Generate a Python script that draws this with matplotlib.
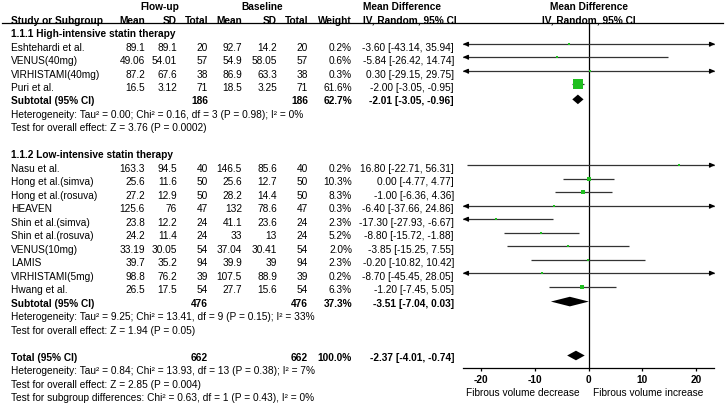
import matplotlib
matplotlib.use("Agg")
import matplotlib.pyplot as plt
import numpy as np

plt.rcParams['font.family'] = ['Liberation Sans', 'DejaVu Sans']

# ---------------- data ----------------
high_names = ["Eshtehardi et al.", "VENUS(40mg)", "VIRHISTAMI(40mg)", "Puri et al."]
high_fu_mean = [89.1, 49.06, 87.2, 16.5]
high_fu_sd = [89.1, 54.01, 67.6, 3.12]
high_fu_n = [20, 57, 38, 71]
high_bl_mean = [92.7, 54.9, 86.9, 18.5]
high_bl_sd = [14.2, 58.05, 63.3, 3.25]
high_bl_n = [20, 57, 38, 71]
high_weight = [0.2, 0.6, 0.3, 61.6]
high_md = [-3.60, -5.84, 0.30, -2.00]
high_lo = [-43.14, -26.42, -29.15, -3.05]
high_hi = [35.94, 14.74, 29.75, -0.95]
high_sub = dict(n1=186, n2=186, w=62.7, md=-2.01, lo=-3.05, hi=-0.96)
high_het = "Heterogeneity: Tau\u00b2 = 0.00; Chi\u00b2 = 0.16, df = 3 (P = 0.98); I\u00b2 = 0%"
high_test = "Test for overall effect: Z = 3.76 (P = 0.0002)"

low_names = ["Nasu et al.", "Hong et al.(simva)", "Hong et al.(rosuva)", "HEAVEN",
             "Shin et al.(simva)", "Shin et al.(rosuva)", "VENUS(10mg)", "LAMIS",
             "VIRHISTAMI(5mg)", "Hwang et al."]
low_fu_mean = [163.3, 25.6, 27.2, 125.6, 23.8, 24.2, 33.19, 39.7, 98.8, 26.5]
low_fu_sd = [94.5, 11.6, 12.9, 76, 12.2, 11.4, 30.05, 35.2, 76.2, 17.5]
low_fu_n = [40, 50, 50, 47, 24, 24, 54, 94, 39, 54]
low_bl_mean = [146.5, 25.6, 28.2, 132, 41.1, 33, 37.04, 39.9, 107.5, 27.7]
low_bl_sd = [85.6, 12.7, 14.4, 78.6, 23.6, 13, 30.41, 39, 88.9, 15.6]
low_bl_n = [40, 50, 50, 47, 24, 24, 54, 94, 39, 54]
low_weight = [0.2, 10.3, 8.3, 0.3, 2.3, 5.2, 2.0, 2.3, 0.2, 6.3]
low_md = [16.80, 0.00, -1.00, -6.40, -17.30, -8.80, -3.85, -0.20, -8.70, -1.20]
low_lo = [-22.71, -4.77, -6.36, -37.66, -27.93, -15.72, -15.25, -10.82, -45.45, -7.45]
low_hi = [56.31, 4.77, 4.36, 24.86, -6.67, -1.88, 7.55, 10.42, 28.05, 5.05]
low_sub = dict(n1=476, n2=476, w=37.3, md=-3.51, lo=-7.04, hi=0.03)
low_het = "Heterogeneity: Tau\u00b2 = 9.25; Chi\u00b2 = 13.41, df = 9 (P = 0.15); I\u00b2 = 33%"
low_test = "Test for overall effect: Z = 1.94 (P = 0.05)"

total = dict(n1=662, n2=662, w=100.0, md=-2.37, lo=-4.01, hi=-0.74)
total_het = "Heterogeneity: Tau\u00b2 = 0.84; Chi\u00b2 = 13.93, df = 13 (P = 0.38); I\u00b2 = 7%"
total_test = "Test for overall effect: Z = 2.85 (P = 0.004)"
subgroup_test = "Test for subgroup differences: Chi\u00b2 = 0.63, df = 1 (P = 0.43), I\u00b2 = 0%"

xticks = [-20, -10, 0, 10, 20]
xlim = (-23.35, 23.35)

# ---------------- layout ----------------
W, H = 726, 405
fig = plt.figure(figsize=(W / 100, H / 100), dpi=100)
ax = fig.add_axes([0, 0, 1, 1])
ax.set_xlim(0, W)
ax.set_ylim(H, 0)
ax.axis('off')

FS = 7.3
GREEN = '#1fbf1f'
LINE = '#333333'


def row(k):
    return 20 + (k - 1) * 13.48


def txt(x, k, s, ha='left', bold=False):
    ax.text(x, row(k) + 3.6, s, ha=ha, va='baseline', fontsize=FS,
            fontweight='bold' if bold else 'normal', color='black')


def fmt(v):
    return f"{v:g}"


# column right edges (pixels)
X_NAME = 11
X_FM, X_FS, X_FN = 145, 177, 208
X_BM, X_BS, X_BN = 242, 277, 308
X_W = 352
X_MD = 454

# headers
ax.text(160, row(0) + 3.6, "Flow-up", ha='center', va='baseline', fontsize=FS, fontweight='bold')
ax.text(262, row(0) + 3.6, "Baseline", ha='center', va='baseline', fontsize=FS, fontweight='bold')
txt(363, 0, "Mean Difference", bold=True)
ax.text(589, row(0) + 3.6, "Mean Difference", ha='center', va='baseline', fontsize=FS, fontweight='bold')
txt(X_NAME, 1, "Study or Subgroup", bold=True)
for x, s in [(X_FM, "Mean"), (X_FS, "SD"), (X_FN, "Total"), (X_BM, "Mean"),
             (X_BS, "SD"), (X_BN, "Total"), (X_W, "Weight")]:
    txt(x, 1, s, ha='right', bold=True)
txt(363, 1, "IV, Random, 95% CI", bold=True)
ax.text(589, row(1) + 3.6, "IV, Random, 95% CI", ha='center', va='baseline', fontsize=FS, fontweight='bold')
ax.plot([2, 723], [23.3, 23.3], color='black', lw=0.9)

# forest axes
AX_L, AX_R, AX_T, AX_B = 463.2, 714.2, 23.3, 368.0
fa = fig.add_axes([AX_L / W, 1 - AX_B / H, (AX_R - AX_L) / W, (AX_B - AX_T) / H])
fa.set_xlim(*xlim)
fa.set_ylim(AX_B, AX_T)
fa.patch.set_alpha(0)
for sp in ['left', 'right', 'top']:
    fa.spines[sp].set_visible(False)
fa.spines['bottom'].set_linewidth(0.9)
fa.set_yticks([])
fa.set_xticks(xticks)
fa.set_xticklabels([str(t) for t in xticks], fontsize=FS, fontweight='bold')
fa.tick_params(axis='x', length=2.5, width=0.9, pad=2.5)
fa.axvline(0, color='black', lw=0.9)

arrow_right = [(0, 0), (-1, 0.42), (-1, -0.42)]
arrow_left = [(0, 0), (1, 0.42), (1, -0.42)]


def study(k, name, fm, fsd, fn, bm, bsd, bn, w, md, lo, hi):
    txt(X_NAME, k, name)
    txt(X_FM, k, fmt(fm), 'right')
    txt(X_FS, k, fmt(fsd), 'right')
    txt(X_FN, k, fmt(fn), 'right')
    txt(X_BM, k, fmt(bm), 'right')
    txt(X_BS, k, fmt(bsd), 'right')
    txt(X_BN, k, fmt(bn), 'right')
    txt(X_W, k, f"{w:.1f}%", 'right')
    txt(X_MD, k, f"{md:.2f} [{lo:.2f}, {hi:.2f}]", 'right')
    y = row(k) - 3
    l = max(lo, xlim[0])
    r = min(hi, xlim[1])
    fa.plot([l, r], [y, y], color=LINE, lw=0.9, solid_capstyle='butt', clip_on=False)
    if lo < xlim[0]:
        fa.plot([xlim[0]], [y], marker=arrow_left, ms=7, color='black', clip_on=False)
    if hi > xlim[1]:
        fa.plot([xlim[1]], [y], marker=arrow_right, ms=7, color='black', clip_on=False)
    side_px = max(2.0, 9.5 * np.sqrt(w / 61.6))
    fa.plot([md], [y], marker='s', ms=side_px * 0.72, color=GREEN, mec=GREEN, mew=0, clip_on=False)


def summary(k, label, d):
    txt(X_NAME, k, label, bold=True)
    txt(X_FN, k, str(d['n1']), 'right', bold=True)
    txt(X_BN, k, str(d['n2']), 'right', bold=True)
    txt(X_W, k, f"{d['w']:.1f}%", 'right', bold=True)
    txt(X_MD, k, f"{d['md']:.2f} [{d['lo']:.2f}, {d['hi']:.2f}]", 'right', bold=True)
    y = row(k) - 1.5
    h = 4.8
    fa.fill([d['lo'], d['md'], d['hi'], d['md']], [y, y - h, y, y + h],
            color='black', lw=0, clip_on=False)


# subgroup 1
txt(X_NAME, 2, "1.1.1 High-intensive statin therapy", bold=True)
for i in range(len(high_names)):
    study(3 + i, high_names[i], high_fu_mean[i], high_fu_sd[i], high_fu_n[i],
          high_bl_mean[i], high_bl_sd[i], high_bl_n[i], high_weight[i],
          high_md[i], high_lo[i], high_hi[i])
summary(7, "Subtotal (95% CI)", high_sub)
txt(X_NAME, 8, high_het)
txt(X_NAME, 9, high_test)

# subgroup 2
txt(X_NAME, 11, "1.1.2 Low-intensive statin therapy", bold=True)
for i in range(len(low_names)):
    study(12 + i, low_names[i], low_fu_mean[i], low_fu_sd[i], low_fu_n[i],
          low_bl_mean[i], low_bl_sd[i], low_bl_n[i], low_weight[i],
          low_md[i], low_lo[i], low_hi[i])
summary(22, "Subtotal (95% CI)", low_sub)
txt(X_NAME, 23, low_het)
txt(X_NAME, 24, low_test)

# total
summary(26, "Total (95% CI)", total)
txt(X_NAME, 27, total_het)
txt(X_NAME, 28, total_test)
txt(X_NAME, 29, subgroup_test)

# axis direction labels
ax.text(580, 395.5, "Fibrous volume decrease", ha='right', va='baseline', fontsize=FS)
ax.text(593, 395.5, "Fibrous volume increase", ha='left', va='baseline', fontsize=FS)

fig.savefig("out.png", dpi=100)
